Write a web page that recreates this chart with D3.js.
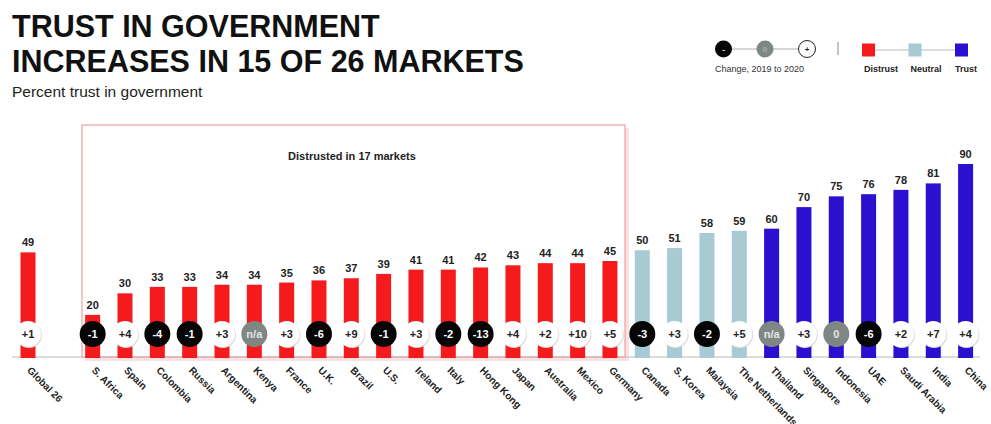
<!DOCTYPE html>
<html>
<head>
<meta charset="utf-8">
<script src="https://cdn.jsdelivr.net/npm/d3@7"></script>
<style>
  body { margin: 0; background: #fff; font-family: "Liberation Sans", Arial, sans-serif; }
</style>
</head>
<body>
<div class="container"></div>
<script>
// markets, left to right (Global 26 sits apart from the rest)
const markets = ["Global 26", "S. Africa", "Spain", "Colombia", "Russia", "Argentina", "Kenya", "France",
                 "U.K.", "Brazil", "U.S.", "Ireland", "Italy", "Hong Kong", "Japan", "Australia", "Mexico",
                 "Germany", "Canada", "S. Korea", "Malaysia", "The Netherlands", "Thailand", "Singapore",
                 "Indonesia", "UAE", "Saudi Arabia", "India", "China"]
const trust = [49, 20, 30, 33, 33, 34, 34, 35, 36, 37, 39, 41, 41, 42, 43, 44, 44, 45,
               50, 51, 58, 59, 60, 70, 75, 76, 78, 81, 90]
const change = ["+1", "-1", "+4", "-4", "-1", "+3", "n/a", "+3", "-6", "+9", "-1", "+3", "-2", "-13",
                "+4", "+2", "+10", "+5", "-3", "+3", "-2", "+5", "n/a", "+3", "0", "-6", "+2", "+7", "+4"]
const levels = ["Distrust", "Neutral", "Trust"]
const levelBreaks = [50, 60]

const w = 991
const h = 424
const baseY = 358
const dataset = markets.map((m, i) => ({ market: m, value: trust[i], change: change[i] }))

const colors = ["#f51b1d", "#a7cad3", "#2b10cf"]
const colorScale = d3.scaleThreshold().domain(levelBreaks).range(colors)

// one empty slot between Global 26 and the markets
const slots = [markets[0], "__gap"].concat(markets.slice(1))
const xScale = d3.scalePoint()
                 .domain(slots)
                 .range([28, 965.6])
const yScale = d3.scaleLinear()
                 .domain([0, 90])
                 .range([baseY, 164])

const svg = d3.select(".container")
              .append("svg")
              .attr("width", w)
              .attr("height", h)

// Title
svg.append("text").attr("x", 12).attr("y", 37)
   .style("font-size", "30.5px").style("font-weight", "bold").style("fill", "#111")
   .text("TRUST IN GOVERNMENT")
svg.append("text").attr("x", 12).attr("y", 72)
   .style("font-size", "30.5px").style("font-weight", "bold").style("fill", "#111")
   .text("INCREASES IN 15 OF 26 MARKETS")
svg.append("text").attr("x", 12).attr("y", 97)
   .style("font-size", "15.5px").style("fill", "#222")
   .text("Percent trust in government")

// Distrusted box
svg.append("rect")
   .attr("x", 85).attr("y", 128).attr("width", 544).attr("height", 233)
   .style("fill", "#fbe1e1")
svg.append("rect")
   .attr("x", 82).attr("y", 125).attr("width", 543).attr("height", 232)
   .style("fill", "#fff").style("stroke", "#ee8c8c").style("stroke-width", 1)
svg.append("text")
   .attr("x", 352).attr("y", 160)
   .style("text-anchor", "middle").style("font-size", "11px").style("font-weight", "bold").style("fill", "#222")
   .text("Distrusted in 17 markets")

// baseline
svg.append("line")
   .attr("x1", 12).attr("x2", 980).attr("y1", baseY - 1).attr("y2", baseY - 1)
   .style("stroke", "#bbb")

const barW = 15
svg.selectAll("rect.bar")
   .data(dataset)
   .enter()
   .append("rect")
   .attr("class", "bar")
   .attr("x", d => xScale(d.market) - barW / 2)
   .attr("y", d => yScale(d.value))
   .attr("width", barW)
   .attr("height", d => baseY - yScale(d.value))
   .style("fill", d => colorScale(d.value))

svg.selectAll("text.value")
   .data(dataset)
   .enter()
   .append("text")
   .attr("class", "value")
   .attr("x", d => xScale(d.market))
   .attr("y", d => yScale(d.value) - 6)
   .style("text-anchor", "middle").style("font-size", "11px").style("font-weight", "bold").style("fill", "#222")
   .text(d => d.value)

// change bubbles
const bubbleY = 334
const bubbleFill = c => c === "n/a" || c === "0" ? "#7e8784" : (c[0] === "-" ? "#050505" : "#fff")
const bubbleText = c => c === "n/a" || c === "0" ? "#e6e6e6" : (c[0] === "-" ? "#fff" : "#222")

const bubbles = svg.selectAll("g.bubble")
                   .data(dataset)
                   .enter()
                   .append("g")
                   .attr("class", "bubble")
                   .attr("transform", d => `translate(${xScale(d.market)}, ${bubbleY})`)
bubbles.filter(d => d.change[0] === "+")
       .append("circle").attr("cx", 1).attr("cy", 1).attr("r", 13)
       .style("fill", "#ddd")
bubbles.append("circle")
       .attr("r", 13)
       .style("fill", d => bubbleFill(d.change))
bubbles.append("text")
       .attr("y", 4)
       .style("text-anchor", "middle").style("font-size", "11px").style("font-weight", "bold")
       .style("fill", d => bubbleText(d.change))
       .text(d => d.change)

// x labels
const xAxis = d3.axisBottom(xScale)
                .tickValues(markets)
                .tickSize(0)
                .tickSizeOuter(0)
svg.append("g")
   .attr("id", "x-axis")
   .attr("transform", `translate(0, ${baseY})`)
   .call(xAxis)
   .call(g => g.select(".domain").remove())
   .selectAll("text")
   .attr("x", 0).attr("y", 0).attr("dy", 0)
   .attr("transform", "translate(-2, 13) rotate(45)")
   .style("text-anchor", "start")
   .style("font-family", "Liberation Sans, Arial, sans-serif")
   .style("font-size", "10px")
   .style("font-weight", "bold")
   .style("fill", "#222")

// Legend: change
const lg = svg.append("g").attr("id", "legend")
const changeKeys = [{ x: 723.5, fill: "#050505", stroke: "none", t: "-", tc: "#fff" },
                    { x: 765, fill: "#7e8784", stroke: "none", t: "0", tc: "#aab" },
                    { x: 807, fill: "#fff", stroke: "#222", t: "+", tc: "#222" }]
lg.append("line").attr("x1", 723).attr("x2", 807).attr("y1", 49).attr("y2", 49).style("stroke", "#aaa")
lg.selectAll("circle").data(changeKeys).enter().append("circle")
  .attr("cx", d => d.x).attr("cy", 49).attr("r", 8.5)
  .style("fill", d => d.fill).style("stroke", d => d.stroke)
lg.selectAll("text.ck").data(changeKeys).enter().append("text").attr("class", "ck")
  .attr("x", d => d.x).attr("y", 52)
  .style("text-anchor", "middle").style("font-size", "8px").style("font-weight", "bold")
  .style("fill", d => d.tc).text(d => d.t)
lg.append("text").attr("x", 715).attr("y", 72)
  .style("font-size", "9px").style("fill", "#333")
  .text("Change, 2019 to 2020")
lg.append("line").attr("x1", 838).attr("x2", 838).attr("y1", 42).attr("y2", 55).style("stroke", "#888")

// Legend: levels
const levelX = [868.5, 915, 961.5]
lg.append("line").attr("x1", 868).attr("x2", 962).attr("y1", 50).attr("y2", 50).style("stroke", "#bbb")
lg.selectAll("rect").data(levels).enter().append("rect")
  .attr("x", (d, i) => levelX[i] - 6.5).attr("y", 43.5).attr("width", 13).attr("height", 13)
  .style("fill", (d, i) => colors[i])
lg.selectAll("text.lv").data(levels).enter().append("text").attr("class", "lv")
  .attr("x", (d, i) => [881, 926, 966][i]).attr("y", 72)
  .style("text-anchor", "middle").style("font-size", "9px").style("font-weight", "bold").style("fill", "#222")
  .text(d => d)
</script>
</body>
</html>
